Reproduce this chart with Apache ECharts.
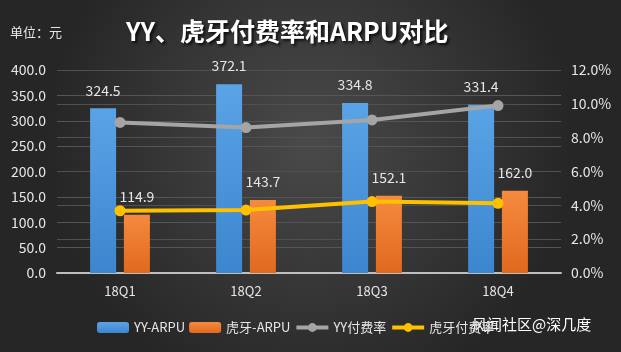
<!DOCTYPE html>
<html>
<head>
<meta charset="utf-8">
<script src="https://cdn.jsdelivr.net/npm/echarts@6/dist/echarts.min.js"></script>
<style>
  html, body { margin: 0; padding: 0; }
  #chart { width: 621px; height: 352px; }
</style>
</head>
<body>
<div id="chart"></div>
<script>
// quarters
const categories = ["18Q1", "18Q2", "18Q3", "18Q4"];
// ARPU (元)
const yyArpu = [324.5, 372.1, 334.8, 331.4];
const huyaArpu = [114.9, 143.7, 152.1, 162.0];
// 付费率 (%)
const yyRate = [8.9, 8.6, 9.05, 9.9];
const huyaRate = [3.68, 3.72, 4.22, 4.12];

const FONT = "'Noto Sans CJK SC', 'Noto Sans', sans-serif";
const labelColor = "#e6e6e6";

const chart = echarts.init(document.getElementById("chart"));

const option = {
  backgroundColor: {
    type: "radial", x: 0.5, y: 0.4, r: 0.75,
    colorStops: [
      { offset: 0, color: "#4a4a4a" },
      { offset: 1, color: "#262626" }
    ]
  },
  textStyle: { fontFamily: FONT },
  title: {
    text: "YY、虎牙付费率和ARPU对比",
    left: 121,
    top: 14,
    textStyle: {
      color: "#ffffff",
      fontSize: 25,
      fontWeight: "bold",
      fontFamily: FONT,
      textShadowColor: "rgba(0,0,0,0.8)",
      textShadowBlur: 3,
      textShadowOffsetX: 2,
      textShadowOffsetY: 2
    }
  },
  graphic: [
    {
      type: "text", left: 10, top: 26,
      style: { text: "单位：元", fill: labelColor, font: "13px " + FONT }
    },
    {
      type: "text", left: 472, top: 317,
      style: { text: "风闻社区@深几度", fill: "#ffffff", font: "15px " + FONT }
    }
  ],
  legend: {
    left: 92,
    top: 316,
    itemWidth: 32,
    itemHeight: 11,
    itemGap: 4,
    lineStyle: { width: 4 },
    textStyle: { color: labelColor, fontSize: 13, fontFamily: FONT },
    data: ["YY-ARPU", "虎牙-ARPU", "YY付费率", "虎牙付费率"]
  },
  grid: { left: 57, right: 60, top: 70, bottom: 79 },
  xAxis: {
    type: "category",
    data: categories,
    axisLine: { lineStyle: { color: "#bfbfbf", width: 2 } },
    axisTick: { show: false },
    axisLabel: { color: labelColor, fontSize: 13, margin: 12 }
  },
  yAxis: [
    {
      type: "value", min: 0, max: 400, interval: 50,
      axisLine: { show: false }, axisTick: { show: false },
      splitLine: { lineStyle: { color: "#555555", width: 1 } },
      axisLabel: {
        color: labelColor, fontSize: 14, margin: 11,
        formatter: v => v.toFixed(1)
      }
    },
    {
      type: "value", min: 0, max: 12, interval: 2,
      axisLine: { show: false }, axisTick: { show: false },
      splitLine: { lineStyle: { color: "#505050", width: 1 } },
      axisLabel: {
        color: labelColor, fontSize: 14, margin: 10,
        formatter: v => v.toFixed(1) + "%"
      }
    }
  ],
  series: [
    {
      name: "YY-ARPU", type: "bar", data: yyArpu,
      barWidth: 26, barGap: "30%",
      itemStyle: {
        color: {
          type: "linear", x: 0, y: 0, x2: 0, y2: 1,
          colorStops: [
            { offset: 0, color: "#5aa3e6" },
            { offset: 1, color: "#3c86cf" }
          ]
        }
      },
      label: {
        show: true, position: "top", distance: 11,
        color: labelColor, fontSize: 14,
        formatter: p => p.value.toFixed(1)
      }
    },
    {
      name: "虎牙-ARPU", type: "bar", data: huyaArpu,
      barWidth: 26,
      itemStyle: {
        color: {
          type: "linear", x: 0, y: 0, x2: 0, y2: 1,
          colorStops: [
            { offset: 0, color: "#f58a3e" },
            { offset: 1, color: "#e0691e" }
          ]
        }
      },
      label: {
        show: true, position: "top", distance: 11,
        color: labelColor, fontSize: 14,
        formatter: p => p.value.toFixed(1)
      }
    },
    {
      name: "YY付费率", type: "line", yAxisIndex: 1, data: yyRate,
      symbol: "circle", symbolSize: 11,
      lineStyle: { color: "#a5a5a5", width: 4 },
      itemStyle: { color: "#a5a5a5" },
      z: 5
    },
    {
      name: "虎牙付费率", type: "line", yAxisIndex: 1, data: huyaRate,
      symbol: "circle", symbolSize: 11,
      lineStyle: { color: "#ffc000", width: 4 },
      itemStyle: { color: "#ffc000" },
      z: 5
    }
  ]
};

chart.setOption(option);
</script>
</body>
</html>
